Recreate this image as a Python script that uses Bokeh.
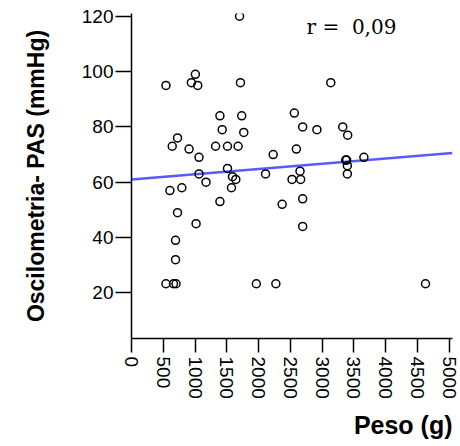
import math
from bokeh.plotting import figure
from bokeh.models import Range1d, FixedTicker, Label, Title
from bokeh.embed import file_html
from bokeh.resources import INLINE

# Scatter data: Peso (g) vs Oscilometria- PAS (mmHg)
peso = [1700, 1005, 942, 1042, 542, 1714, 1391, 1734, 1427, 1766,
        724, 641, 906, 1323, 1510, 1677, 1062, 2229, 3135, 2562,
        2693, 2917, 3323, 3401, 2594, 3370, 3656, 1510, 1062, 1589,
        1641, 1172, 2109, 2526, 604, 792, 1573, 1391, 2370, 724,
        1016, 693, 693, 542, 660, 700, 1964, 2271, 3385, 2651,
        2661, 3396, 3396, 2693, 2693, 4625]
pas = [120, 99, 96, 95, 95, 96, 84, 84, 79, 78,
       76, 73, 72, 73, 73, 73, 69, 70, 96, 85,
       80, 79, 80, 77, 72, 68, 69, 65, 63, 62,
       61, 60, 63, 61, 57, 58, 58, 53, 52, 49,
       45, 39, 32, 23.3, 23.3, 23.3, 23.3, 23.3, 68, 64,
       61, 66, 63, 54, 44, 23.3]

# Regression line
fit_x = [0, 5050]
fit_y = [61.0, 70.6]

x_ticks = [0, 500, 1000, 1500, 2000, 2500, 3000, 3500, 4000, 4500, 5000]
y_ticks = [20, 40, 60, 80, 100, 120]

p = figure(width=460, height=446, output_backend="svg", toolbar_location=None,
           x_range=Range1d(0, 5050), y_range=Range1d(3.5, 121),
           min_border_left=131, min_border_right=8, min_border_top=13,
           min_border_bottom=106)

p.grid.visible = False
p.outline_line_color = None
p.background_fill_color = "white"

for ax in (p.xaxis[0], p.yaxis[0]):
    ax.axis_line_color = "black"
    ax.axis_line_width = 1.5
    ax.major_tick_line_color = "black"
    ax.major_tick_line_width = 1.5
    ax.minor_tick_line_color = None
    ax.major_tick_in = 0
    ax.major_label_text_font = "Liberation Sans"
    ax.major_label_text_font_size = "19px"
    ax.major_label_text_color = "black"
    ax.axis_label_text_font = "Liberation Sans"
    ax.axis_label_text_font_style = "bold"
    ax.axis_label_text_color = "black"

p.xaxis.ticker = FixedTicker(ticks=x_ticks)
p.yaxis.ticker = FixedTicker(ticks=y_ticks)
p.xaxis.major_tick_out = 14
p.yaxis.major_tick_out = 16
p.xaxis.major_label_standoff = 4
p.yaxis.major_label_standoff = 2
p.xaxis.major_label_orientation = "vertical"

p.yaxis.axis_label = "Oscilometria- PAS (mmHg)"
p.yaxis.axis_label_text_font_size = "23px"
p.yaxis.axis_label_standoff = 30

p.add_layout(Title(text="Peso (g)", align="right", text_font="Liberation Sans",
                   text_font_style="bold", text_font_size="25px",
                   text_color="black", standoff=15), "below")

p.line(fit_x, fit_y, line_color="#5a5aff", line_width=2.5)
p.scatter(peso, pas, marker="circle", size=8, fill_color=None,
          line_color="black", line_width=1.5)

p.add_layout(Label(x=2753, y=116.0, text="r = \u00a00,09",
                   text_align="left", text_baseline="alphabetic",
                   text_font="DejaVu Serif", text_font_size="20px",
                   text_color="black"))

open("out.html", "w").write(file_html(p, INLINE))
